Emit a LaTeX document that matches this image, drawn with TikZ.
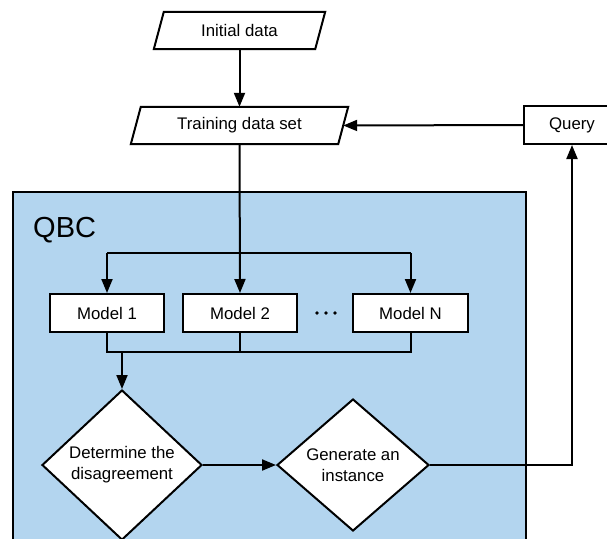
\documentclass[tikz,border=0pt]{standalone}
\usepackage{fontspec}
\setmainfont{Liberation Sans}
\usetikzlibrary{shapes.geometric,arrows.meta}
\definecolor{qbcblue}{RGB}{179,213,239}
\begin{document}
\begin{tikzpicture}[x=1pt,y=-1pt,
  lw/.style={line width=2pt},
  arr/.style={lw,-{Triangle[length=14pt,width=11pt]}},
  txt/.style={font=\fontsize{16.8}{21}\selectfont},
  para/.style={txt,rectangle,draw=none,inner sep=0pt},
  box/.style={txt,rectangle,draw,lw,fill=white,inner sep=0pt},
  dia/.style={txt,diamond,draw,lw,fill=white,inner sep=0pt,align=center}]
\useasboundingbox (0,0) rectangle (607,538);
% QBC container
\node[draw,lw,fill=qbcblue,rectangle,minimum width=513pt,minimum height=369pt,inner sep=0pt,anchor=north west] (qbc) at (12,191) {};
\node[anchor=base west,inner sep=0pt,font=\fontsize{29}{34}\selectfont] (qbclabel) at (33,237) {QBC};
% parallelograms
\node[para,minimum width=161pt,minimum height=37pt] (ini) at (239.5,30.5) {};
\draw[lw,fill=white] ([xshift=5pt]ini.north west) -- ([xshift=5pt]ini.north east) -- ([xshift=-5pt]ini.south east) -- ([xshift=-5pt]ini.south west) -- cycle;
\node[txt] at (ini) {Initial data};
\node[para,minimum width=207pt,minimum height=37pt] (tr) at (239.5,125.5) {};
\draw[lw,fill=white] ([xshift=5pt]tr.north west) -- ([xshift=5pt]tr.north east) -- ([xshift=-5pt]tr.south east) -- ([xshift=-5pt]tr.south west) -- cycle;
\node[txt] at (tr) {Training data set};
% query
\node[box,minimum width=96pt,minimum height=38pt] (q) at (572,125) {Query};
% models
\node[box,minimum width=114pt,minimum height=38pt] (m1) at (107,313) {Model 1};
\node[box,minimum width=114pt,minimum height=38pt] (m2) at (240,313) {Model 2};
\node[box,minimum width=115pt,minimum height=38pt] (mN) at (410.5,313) {Model N};
\node[inner sep=0pt] (dots) at (326,313) {};
\foreach \dx in {-9,0,9} \fill ([xshift=\dx pt]dots) circle (1.8pt);
% diamonds
\node[dia,minimum width=160pt,minimum height=150pt,aspect=1.067] (d1) at (122,465) {Determine the\\disagreement};
\node[dia,minimum width=152pt,minimum height=132pt,aspect=1.15] (d2) at (353,465) {Generate an\\instance};
% connectors
\coordinate (s1) at (107,253);
\coordinate (sN) at (410.5,253);
\coordinate (j1) at (107,352);
\coordinate (jN) at (410.5,352);
\coordinate (jd) at (122,352);
\draw[arr] (ini.south) -- (tr.north);
\draw[arr] (q.west) -- (tr.east);
\draw[arr] (tr.south) -- (m2.north);
\draw[lw] (s1) -- (sN);
\draw[arr] (s1) -- (m1.north);
\draw[arr] (sN) -- (mN.north);
\draw[lw] (m1.south) -- (j1) -- (jN) -- (mN.south);
\draw[lw] (m2.south) -- (m2.south |- j1);
\draw[arr] (jd) -- (d1.north);
\draw[arr] (d1.east) -- (d2.west);
\draw[arr] (d2.east) -| (q.south);
\end{tikzpicture}
\end{document}
